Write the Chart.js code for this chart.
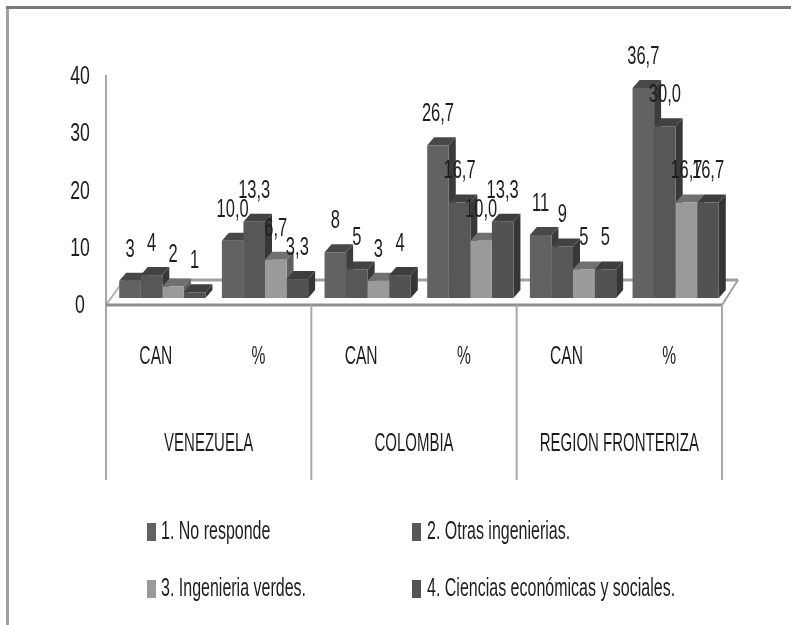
<!DOCTYPE html>
<html>
<head>
<meta charset="utf-8">
<title>Chart</title>
<script src="https://cdn.jsdelivr.net/npm/chart.js@4/dist/chart.umd.min.js"></script>
<style>
  html, body { margin: 0; padding: 0; background: #fff; }
  canvas { display: block; filter: blur(0.7px); }
</style>
</head>
<body>
<canvas id="chart" width="791" height="625"></canvas>
<script>
const categories = ["CAN", "%", "CAN", "%", "CAN", "%"];
const groups = ["VENEZUELA", "COLOMBIA", "REGION FRONTERIZA"];
const noResponde = [3, 10.0, 8, 26.7, 11, 36.7];
const otrasIng = [4, 13.3, 5, 16.7, 9, 30.0];
const ingVerdes = [2, 6.7, 3, 10.0, 5, 16.7];
const cienciasEco = [1, 3.3, 4, 13.3, 5, 16.7];
const seriesNames = ["1. No responde", "2. Otras ingenierias.", "3. Ingenieria verdes.", "4. Ciencias económicas y sociales."];

const FONT = "'Liberation Sans', sans-serif";
const DX = 7, DY = 8;
const SHIFT = 5; // bars sit a little right of the centre of their category
const faces = [
  { front: "#626262", top: "#484848", side: "#3c3c3c" },
  { front: "#575757", top: "#424242", side: "#383838" },
  { front: "#9a9a9a", top: "#707070", side: "#606060" },
  { front: "#525252", top: "#3e3e3e", side: "#363636" },
];

function poly(ctx, pts, fill) {
  ctx.beginPath();
  pts.forEach((p, i) => i ? ctx.lineTo(p[0], p[1]) : ctx.moveTo(p[0], p[1]));
  ctx.closePath();
  ctx.fillStyle = fill;
  ctx.fill();
}

function line(ctx, x1, y1, x2, y2, color, w) {
  ctx.beginPath();
  ctx.moveTo(x1, y1);
  ctx.lineTo(x2, y2);
  ctx.strokeStyle = color;
  ctx.lineWidth = w;
  ctx.stroke();
}

// no condensed font is installed, so squeeze the text horizontally
function narrowText(ctx, txt, x, y, size, squeeze) {
  ctx.save();
  ctx.translate(x, y);
  ctx.scale(squeeze, 1);
  ctx.font = size + "px " + FONT;
  ctx.fillText(txt, 0, 0);
  ctx.restore();
}

// fake 3D: floor, axis lines and the top/side faces of each bar
const depth = {
  id: "depth",
  beforeDatasetsDraw(chart) {
    const { ctx, chartArea: a } = chart;
    const left = a.left - SHIFT, right = a.right - SHIFT;
    const floorY = a.bottom + 7, backY = a.bottom - 18;

    ctx.save();
    // outer frame
    line(ctx, 7.5, 625, 7.5, 7.5, "#a0a0a0", 3);
    line(ctx, 6, 7.5, 791, 7.5, "#787878", 3);

    // floor
    line(ctx, left, floorY, left + 18, backY, "#b0b0b0", 2);
    line(ctx, left + 18, backY, right + 16, backY, "#a0a0a0", 3);
    line(ctx, right + 16, backY, right, floorY, "#a0a0a0", 2);
    line(ctx, left, a.top + 6, left, 480, "#a8a8a8", 2);
    line(ctx, left, floorY, right, floorY, "#909090", 3);

    // separators between the countries
    groups.forEach((g, i) => {
      const sx = left + ((right - left) / groups.length) * (i + 1);
      line(ctx, sx, floorY, sx, 480, "#a8a8a8", 2);
    });

    // side and top faces, left to right so nearer bars cover the farther ones
    const metas = chart.data.datasets.map((d, i) => chart.getDatasetMeta(i));
    categories.forEach((c, i) => {
      metas.forEach((meta, k) => {
        const b = meta.data[i];
        const l = b.x - b.width / 2, r = b.x + b.width / 2;
        poly(ctx, [[r, b.y], [r + DX, b.y - DY], [r + DX, b.base - DY], [r, b.base]], faces[k].side);
        poly(ctx, [[l, b.y], [l + DX, b.y - DY], [r + DX, b.y - DY], [r, b.y]], faces[k].top);
      });
    });
    ctx.restore();
  },
  afterDatasetsDraw(chart) {
    const { ctx, chartArea: a, scales: { x, y } } = chart;
    const left = a.left - SHIFT, right = a.right - SHIFT;
    ctx.save();
    ctx.fillStyle = "#1e1e1e";
    ctx.textAlign = "center";
    ctx.textBaseline = "middle";

    // data labels
    chart.data.datasets.forEach((d, k) => {
      chart.getDatasetMeta(k).data.forEach((b, i) => {
        const txt = i % 2 ? d.data[i].toFixed(1).replace(".", ",") : String(d.data[i]);
        narrowText(ctx, txt, b.x, b.y - 31, 25, 0.66);
      });
    });

    // value axis, labels sit on the front edge of the floor
    y.ticks.forEach(t => {
      narrowText(ctx, String(t.value), 80, y.getPixelForValue(t.value) + 8, 26, 0.68);
    });

    // category labels
    categories.forEach((c, i) => {
      narrowText(ctx, c, x.getPixelForValue(i) - SHIFT - 1.5, 357, 26, 0.6);
    });

    // country names under the CAN / % labels
    groups.forEach((g, i) => {
      const cx = left + ((right - left) / groups.length) * (i + 0.5);
      narrowText(ctx, g, cx, 444, 25, 0.6);
    });

    // legend, two columns by two rows
    const legendX = [147, 412], legendY = [532, 589];
    ctx.textAlign = "left";
    seriesNames.forEach((name, k) => {
      const lx = legendX[k % 2], ly = legendY[k >> 1];
      ctx.fillStyle = faces[k].front;
      ctx.fillRect(lx, ly - 9, 9, 18);
      ctx.fillStyle = "#1e1e1e";
      narrowText(ctx, name, lx + (k % 2 ? 15 : 14), ly, 25, 0.64);
    });
    ctx.restore();
  },
};

new Chart(document.getElementById("chart"), {
  type: "bar",
  data: {
    labels: categories,
    datasets: [noResponde, otrasIng, ingVerdes, cienciasEco].map((values, k) => ({
      label: seriesNames[k],
      data: values,
      backgroundColor: faces[k].front,
      borderWidth: 0,
      categoryPercentage: 0.84,
      barPercentage: 1,
    })),
  },
  options: {
    responsive: false,
    animation: false,
    layout: { padding: { left: 0, right: 64, top: 69, bottom: 0 } },
    plugins: { legend: { display: false }, tooltip: { enabled: false } },
    scales: {
      x: {
        grid: { display: false },
        border: { display: false },
        ticks: { display: false },
        afterFit(s) { s.height = 327; },
      },
      y: {
        min: 0,
        max: 40,
        grid: { display: false },
        border: { display: false },
        ticks: { display: false, stepSize: 10 },
        afterFit(s) { s.width = 111; },
      },
    },
  },
  plugins: [depth],
});
</script>
</body>
</html>
